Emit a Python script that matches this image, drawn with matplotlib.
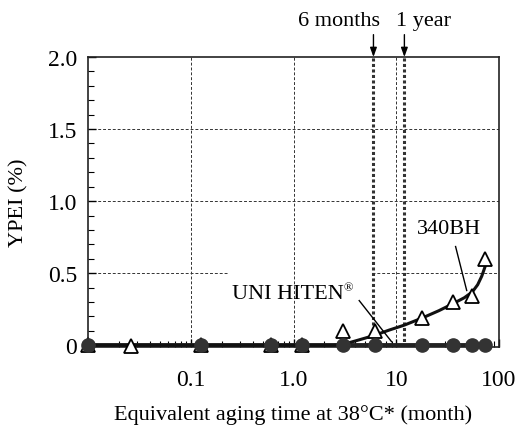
import numpy as np
import matplotlib
matplotlib.use("Agg")
import matplotlib.pyplot as plt
from matplotlib.ticker import FixedLocator, FixedFormatter, LogLocator, MultipleLocator

plt.rcParams['font.family'] = ['Liberation Serif', 'DejaVu Serif']

# UNI HITEN (filled circles)
uni_x = [0.01, 0.125, 0.6, 1.2, 3.0, 6.2, 18, 36, 55, 73]
uni_y = [0, 0, 0, 0, 0, 0, 0, 0, 0, 0]

# 340BH (open triangles)
bh_x = [0.01, 0.026, 0.125, 0.6, 1.2, 3.0, 6.2, 18, 36, 55, 73]
bh_y = [0, -0.005, 0, 0, 0, 0.1, 0.1, 0.19, 0.3, 0.34, 0.6]

# hand-drawn trend curve for 340BH
bh_curve_x = [0.01, 1.0, 2.4, 3.0, 4.0, 5.0, 6.2, 8.5, 12, 18, 26, 36, 46, 55, 62, 68, 74]
bh_curve_y = [0, 0, 0, 0.005, 0.03, 0.05, 0.07, 0.105, 0.14, 0.19, 0.24, 0.29, 0.33, 0.37, 0.42, 0.48, 0.555]

marks_x = [6, 12]
marks_text = ['6 months', '1 year']
marks_text_x = [2.75, 18.5]

ytick_vals = [0, 0.5, 1.0, 1.5, 2.0]
ytick_labels = ['0', '0.5', '1.0', '1.5', '2.0']
xtick_vals = [0.01, 0.1, 1.0, 10, 100]
xtick_labels = ['', '0.1', '1.0', '10', '100']

fig = plt.figure(figsize=(5.31, 4.27), dpi=100)
ax = fig.add_axes([88/531, 1 - 348/427, (499-88)/531, (348-58)/427])
ax.set_xscale('log')
ax.set_xlim(0.01, 100)
ax.set_ylim(-0.012, 2.0)

# grid
gkw = dict(color='#333333', lw=0.7, ls=(0, (3, 2)), zorder=1)
for gx in [0.1, 1.0, 10]:
    ax.axvline(gx, **gkw)
for gy in [1.0, 1.5]:
    ax.axhline(gy, **gkw)
ax.axhline(0.5, xmin=0, xmax=(228-88)/411, **gkw)
ax.axhline(0.5, xmin=(372-88)/411, xmax=1, **gkw)

# 6 months / 1 year markers
for mx, mt, tx in zip(marks_x, marks_text, marks_text_x):
    ax.axvline(mx, color='#333333', lw=2.2, ls=(0, (1, 0.8)), zorder=2)
    ax.annotate('', xy=(mx, 2.0), xytext=(mx, 2.155), xycoords='data',
                annotation_clip=False,
                arrowprops=dict(arrowstyle='-|>,head_length=0.55,head_width=0.2',
                                color='black', lw=1.0, shrinkA=0, shrinkB=0))
    ax.text(tx, 2.185, mt, ha='center', va='bottom', fontsize=16, clip_on=False)

# data lines
ax.plot(uni_x, uni_y, color='#222222', lw=3.5, zorder=3, solid_capstyle='butt')
ax.plot(bh_curve_x, bh_curve_y, color='#111111', lw=2.2, zorder=3)
ax.plot(bh_x, bh_y, ls='none', marker='^', ms=10, mfc='white', mec='black',
        mew=1.3, zorder=4, clip_on=False)
ax.plot(uni_x, uni_y, ls='none', marker='o', ms=9.5, color='#333333', zorder=5,
        clip_on=False)

# labels with leader lines
ax.text(32.5, 0.81, '340BH', ha='center', va='center', fontsize=16)
ax.plot([37.8, 48.5], [0.685, 0.38], color='black', lw=1.0, zorder=4)
t = ax.text(0.251, 0.36, 'UNI HITEN', ha='left', va='center', fontsize=16)
ax.annotate('®', xy=(1.0, 0.82), xycoords=t, ha='left', va='center', fontsize=9)
ax.plot([4.36, 9.0], [0.31, 0.025], color='black', lw=1.0, zorder=4)

# axes styling
for s in ax.spines.values():
    s.set_linewidth(1.2)
    s.set_color('#222222')
ax.xaxis.set_major_locator(FixedLocator(xtick_vals))
ax.xaxis.set_major_formatter(FixedFormatter(xtick_labels))
ax.xaxis.set_minor_locator(LogLocator(base=10, subs=np.arange(2, 10)))
ax.xaxis.set_minor_formatter(FixedFormatter([]))
ax.yaxis.set_major_locator(FixedLocator(ytick_vals))
ax.yaxis.set_major_formatter(FixedFormatter(ytick_labels))
ax.yaxis.set_minor_locator(MultipleLocator(0.1))
ax.tick_params(axis='both', which='major', direction='in', length=6, width=1.0,
               labelsize=17)
ax.tick_params(axis='both', which='minor', direction='in', length=4, width=0.8)
ax.tick_params(axis='x', which='major', pad=16)
ax.tick_params(axis='y', which='major', pad=8)

ax.set_xlabel('Equivalent aging time at 38°C* (month)', fontsize=16, labelpad=10)
ax.set_ylabel('YPEI (%)', fontsize=16, labelpad=14)

fig.savefig('out.png', dpi=100)
